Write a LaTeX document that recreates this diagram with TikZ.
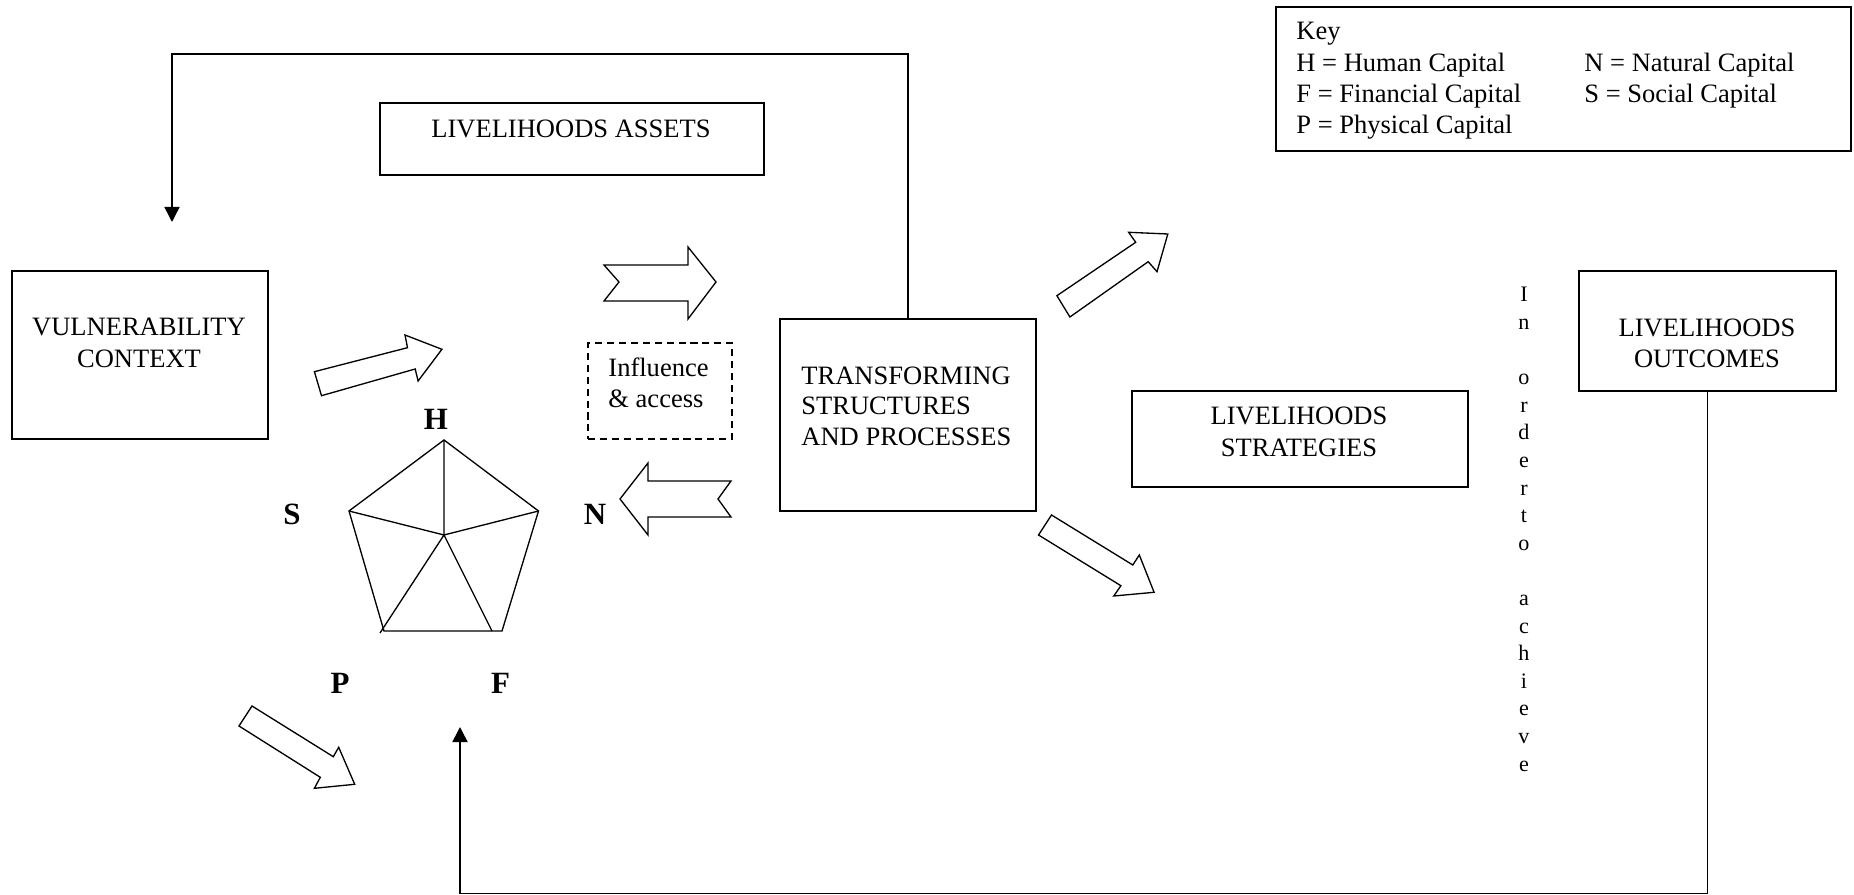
\documentclass[tikz,border=0pt]{standalone}
\usepackage{fontspec}
\setmainfont{Liberation Serif}
\usetikzlibrary{arrows.meta}
\newcommand\pxu{0.4525pt}
\begin{document}
\begin{tikzpicture}[x=0.4525pt,y=-0.4525pt,
  box/.style={draw, line width=0.8pt, inner sep=0pt, outer sep=0pt},
  txt/.style={inner sep=0pt, anchor=base, font=\fontsize{12}{14}\selectfont},
  txtl/.style={txt, anchor=base west},
  lbl/.style={inner sep=0pt, anchor=base, font=\fontsize{14}{16}\selectfont\bfseries},
  vl/.style={inner sep=0pt, anchor=base, font=\fontsize{10}{12}\selectfont},
  blk/.style={draw, line width=0.6pt, fill=white, line join=miter},
  pent/.style={draw, line width=0.6pt},
  conn/.style={draw, line width=0.7pt},
  arr/.style={-{Triangle[length=6.8pt,width=6.8pt]}}
]
\useasboundingbox (0,0) rectangle (1854,895);

% boxes
\node[box, minimum width=256*\pxu, minimum height=168*\pxu] (vc) at (140,355) {};
\node[txt] (vc1) at (139,336) {VULNERABILITY};
\node[txt] (vc2) at (139,368) {CONTEXT};

\node[box, minimum width=384*\pxu, minimum height=72*\pxu] (la) at (572,139) {};
\node[txt] (la1) at (571,138) {LIVELIHOODS ASSETS};

\node[box, dash pattern=on 3.2pt off 2.2pt, minimum width=144*\pxu, minimum height=96*\pxu] (ia) at (660,391) {};
\node[txtl] (ia1) at (608,377) {Influence};
\node[txtl] (ia2) at (608,408) {\& access};

\node[box, minimum width=256*\pxu, minimum height=192*\pxu] (tsp) at (908,415) {};
\node[txtl] (tsp1) at (801,384.5) {TRANSFORMING};
\node[txtl] (tsp2) at (801,415) {STRUCTURES};
\node[txtl] (tsp3) at (801,445.5) {AND PROCESSES};

\node[box, minimum width=336*\pxu, minimum height=96*\pxu] (ls) at (1300,439) {};
\node[txt] (ls1) at (1299,425) {LIVELIHOODS};
\node[txt] (ls2) at (1299,457) {STRATEGIES};

\node[box, minimum width=257*\pxu, minimum height=120*\pxu] (lo) at (1707.5,331) {};
\node[txt] (lo1) at (1707,337) {LIVELIHOODS};
\node[txt] (lo2) at (1707,368) {OUTCOMES};

\node[box, minimum width=575*\pxu, minimum height=144*\pxu] (key) at (1563.5,79) {};
\node[txtl] (k0) at (1296,40) {Key};
\node[txtl] (k1) at (1296,72) {H = Human Capital};
\node[txtl] (k2) at (1296,103) {F = Financial Capital};
\node[txtl] (k3) at (1296,134) {P = Physical Capital};
\node[txtl] (k4) at (1584,72) {N = Natural Capital};
\node[txtl] (k5) at (1584,103) {S = Social Capital};

% vertical text
\foreach \k/\c in {0/I,1/n,3/o,4/r,5/d,6/e,7/r,8/t,9/o,11/a,12/c,13/h,14/i,15/e,16/v,17/e}
  \node[vl] (v\k) at (1524,{302+27.6*\k}) {\c};

% pentagon
\coordinate (pT) at (444,440);
\coordinate (pL) at (349,511);
\coordinate (pR) at (538.5,511);
\coordinate (pBL) at (384,631);
\coordinate (pBR) at (502,631);
\coordinate (pC) at (444,535);
\coordinate (pX) at (380,633);
\coordinate (pY) at (492,631);
\draw[pent] (pT) -- (pR) -- (pBR) -- (pBL) -- (pL) -- cycle;
\draw[pent] (pC) -- (pT) (pC) -- (pL) (pC) -- (pR) (pC) -- (pX) (pC) -- (pY);

\node[lbl] (lH) at (436,430) {H};
\node[lbl] (lS) at (292,525) {S};
\node[lbl] (lN) at (595,525) {N};
\node[lbl] (lP) at (340,693) {P};
\node[lbl] (lF) at (500.5,693) {F};

% block arrows
\draw[blk] (604,265) -- (688,265) -- (688,247) -- (716,282) -- (688,319) -- (688,301) -- (604,301) -- (619,282) -- cycle;
\draw[blk] (620,499) -- (648,463) -- (648,481) -- (731,481) -- (718,499) -- (731,517) -- (648,517) -- (648,535) -- cycle;
\draw[blk] (314.4,371.7) -- (407.5,347.7) -- (405,335) -- (441.9,349.3) -- (418.1,381) -- (415.2,369) -- (321.5,395.7) -- cycle;
\draw[blk] (1056.9,295.7) -- (1135.7,242.3) -- (1128.6,232.3) -- (1167.8,234) -- (1157,271.7) -- (1148.2,261.7) -- (1069.9,317) -- cycle;
\draw[blk] (1051.5,515) -- (1132.8,565) -- (1139.3,555) -- (1154.1,592.3) -- (1113.8,596) -- (1120.9,585.7) -- (1038.5,535) -- cycle;
\draw[blk] (252,706) -- (333.3,756.7) -- (338.7,747.3) -- (354.7,784.3) -- (314.4,788.3) -- (320.3,777.3) -- (239,726) -- cycle;

% connectors
\coordinate (c1) at (172,54);
\coordinate (vcin) at (172,222);
\draw[conn, arr] (tsp.north) |- (c1) -- (vcin);
\coordinate (c2) at (460,893.5);
\coordinate (fin) at (460,727);
\draw[conn, arr] (lo.south) |- (c2) -- (fin);
\end{tikzpicture}
\end{document}
